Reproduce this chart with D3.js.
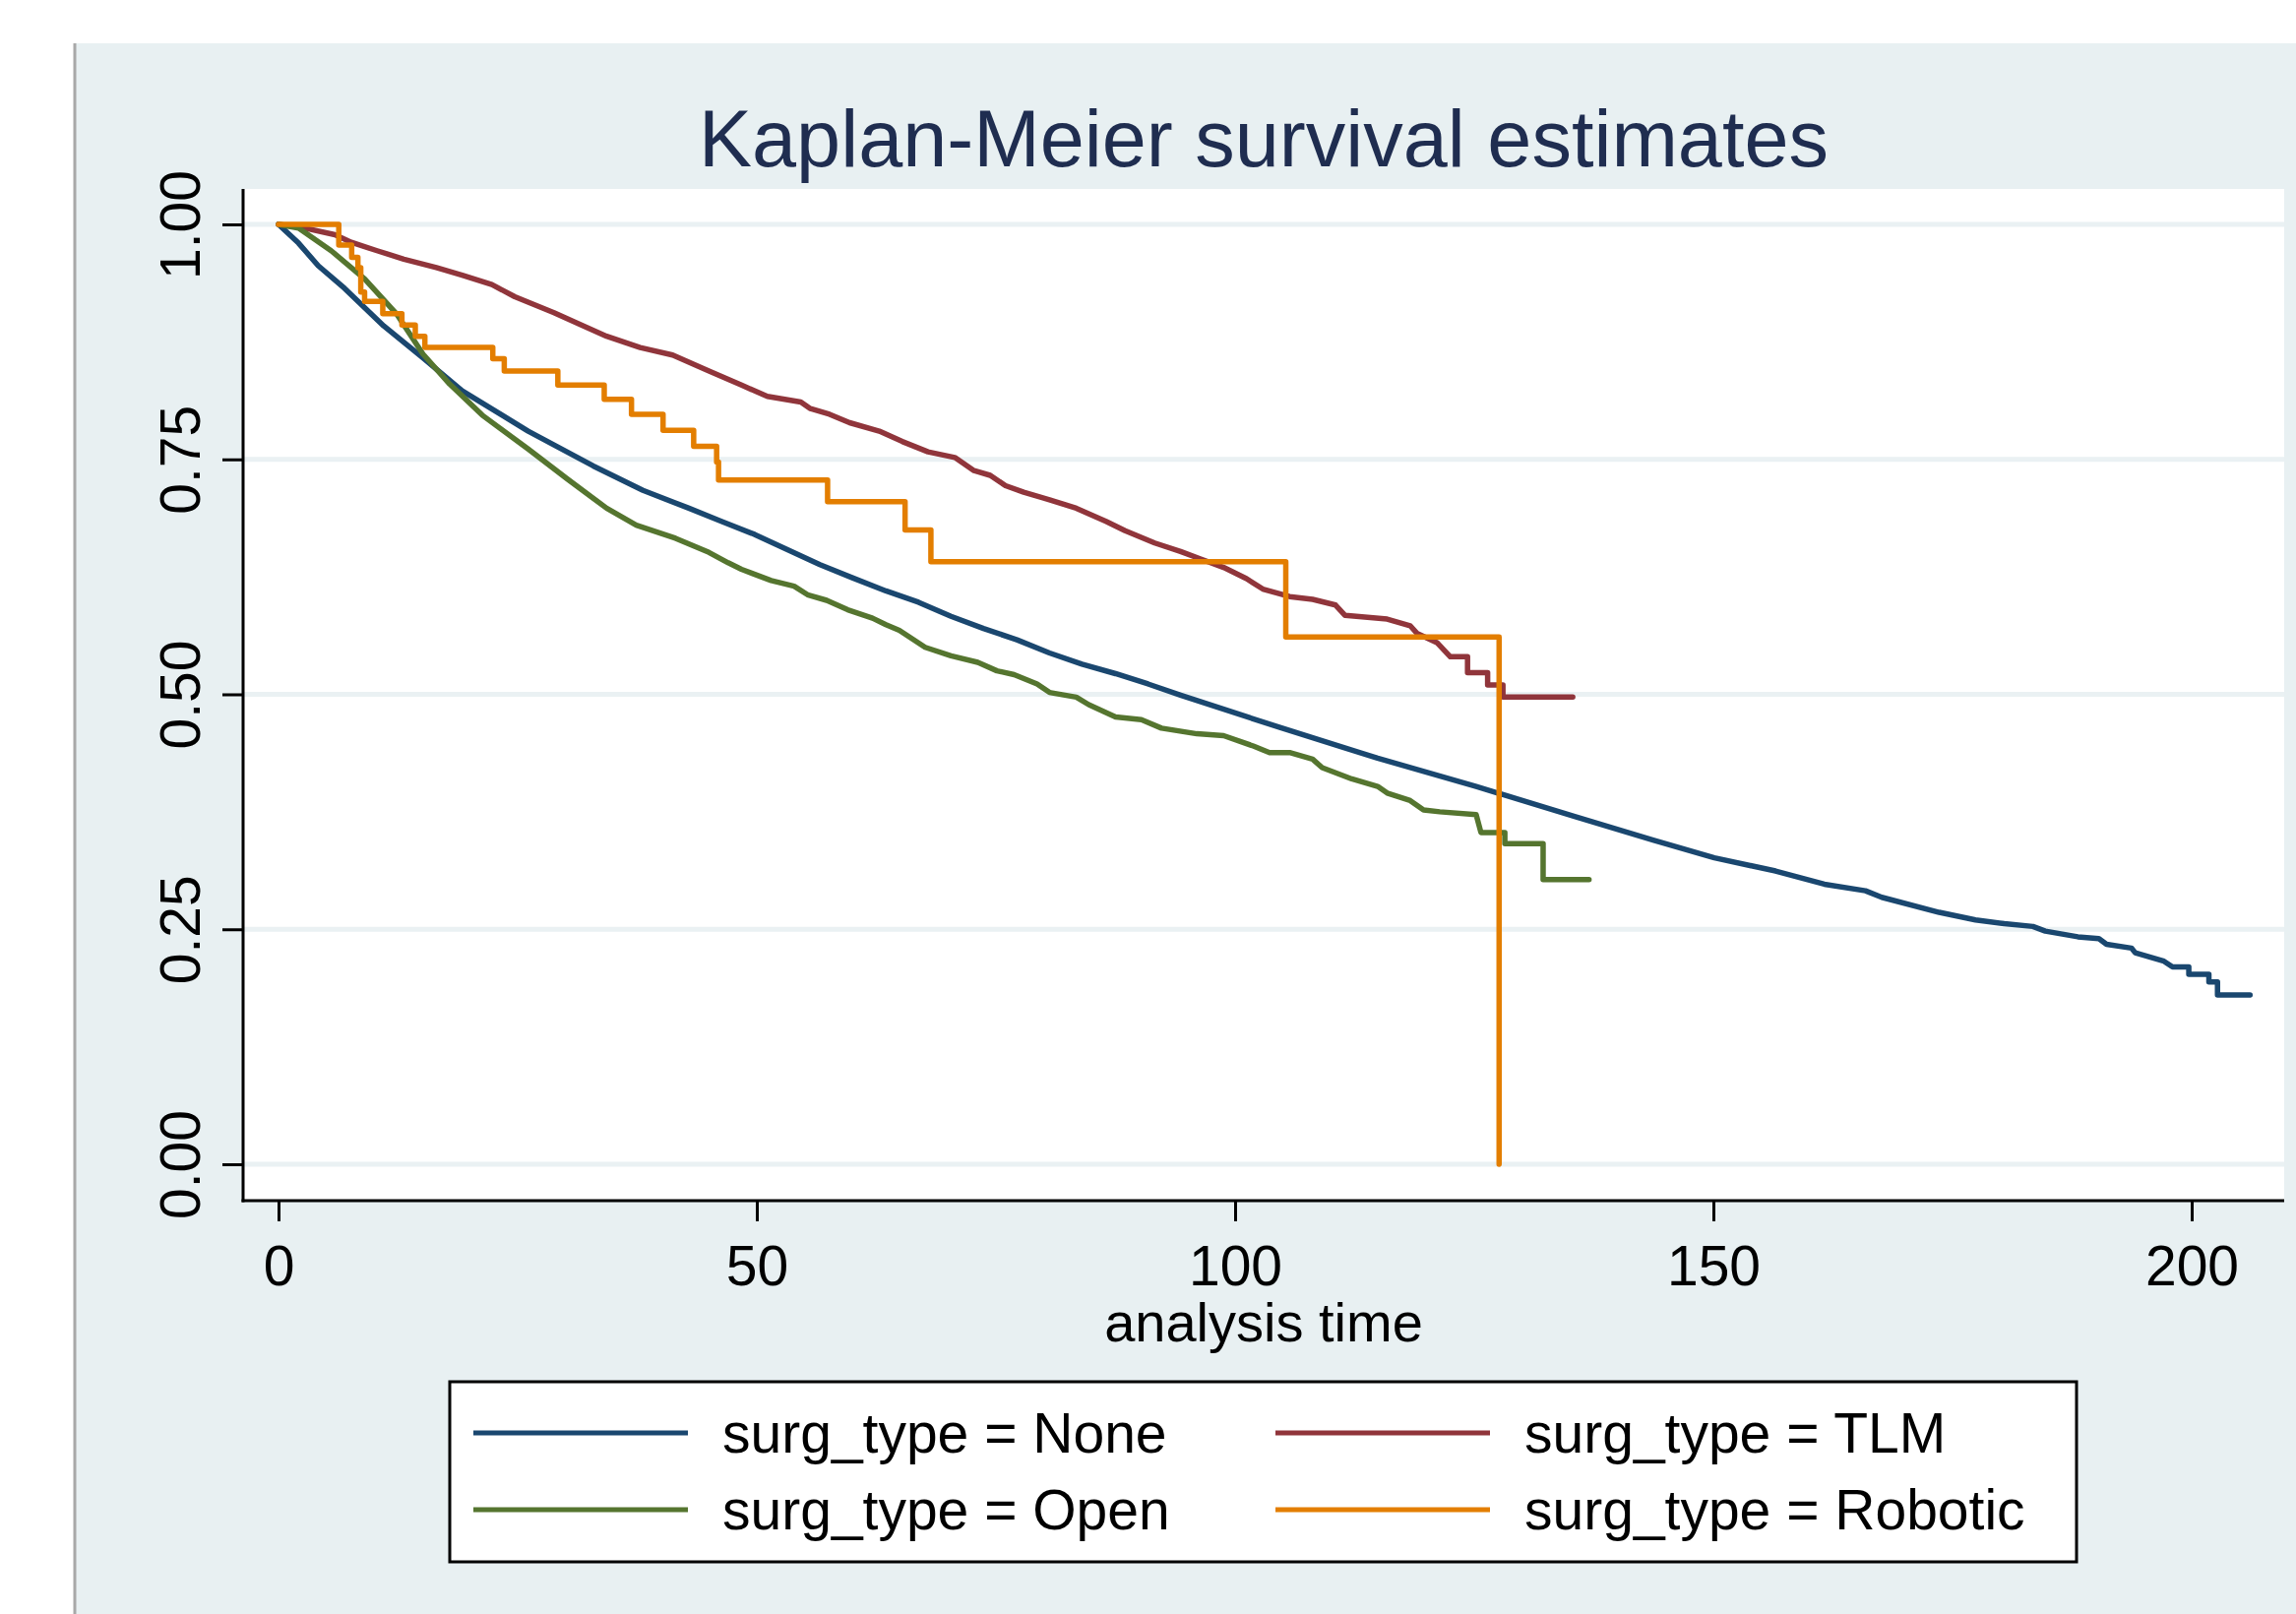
<!DOCTYPE html>
<html>
<head>
<meta charset="utf-8">
<script src="https://cdn.jsdelivr.net/npm/d3@7/dist/d3.min.js"></script>
<style>
  html, body { margin: 0; padding: 0; background: #fff; }
  svg text { font-family: "Liberation Sans", Arial, sans-serif; }
</style>
</head>
<body>
<div id="chart"></div>
<script>
// survival estimates: [analysis time, S(t)]
const noneCurve = [[0,1],[2.1,0.980],[4.15,0.956],[6.9,0.932],[11.0,0.892],[15.1,0.858],[19.2,0.823],[26.1,0.780],
  [32.9,0.743],[38.1,0.717],[42.9,0.698],[46.3,0.684],[49.8,0.670],[53.2,0.654],[56.6,0.638],[60.0,0.624],
  [63.5,0.610],[66.9,0.598],[70.3,0.583],[73.7,0.570],[77.2,0.558],[80.6,0.544],[84.0,0.532],[87.5,0.522],
  [90.9,0.511],[94.3,0.499],[104.6,0.465],[114.9,0.432],[125.2,0.402],[135.5,0.370],[143.7,0.345],[150.1,0.326],
  [156.5,0.312],[161.6,0.298],[165.9,0.291],[167.6,0.284],[173.6,0.268],[177.4,0.260],[180.4,0.256],[183.4,0.253],
  [184.7,0.248],[188.1,0.242],[190.3,0.240],[191.1,0.234],[193.7,0.230],[194.1,0.225],[197.1,0.216],[198.0,0.210],
  [199.7,0.210],[199.7,0.202],[201.8,0.202],[201.8,0.194],[202.7,0.194],[202.7,0.180],[206.1,0.180]];

const tlmCurve = [[0,1],[2.8,0.996],[5.9,0.989],[7.6,0.981],[10.3,0.972],[13.1,0.963],[16.5,0.954],[19.2,0.946],
  [22.3,0.936],[24.7,0.923],[28.8,0.906],[31.2,0.895],[34.3,0.881],[37.8,0.869],[41.2,0.861],[45.0,0.844],
  [48.4,0.829],[51.1,0.817],[54.6,0.811],[55.6,0.804],[57.6,0.798],[59.7,0.789],[62.8,0.780],[65.2,0.769],
  [67.9,0.758],[70.7,0.752],[72.7,0.738],[74.4,0.733],[76.0,0.722],[77.9,0.715],[80.6,0.707],[83.4,0.698],
  [86.5,0.684],[88.5,0.674],[91.6,0.661],[94.3,0.652],[96.4,0.644],[98.8,0.635],[101.2,0.623],[102.9,0.612],
  [105.7,0.604],[108.1,0.601],[110.5,0.595],[111.5,0.584],[115.9,0.580],[118.3,0.573],[119.0,0.565],[121.1,0.555],
  [122.5,0.540],[124.3,0.540],[124.3,0.523],[126.4,0.523],[126.4,0.510],[128.0,0.510],[128.0,0.497],[135.3,0.497]];

const openCurve = [[0,1],[2.1,0.996],[5.5,0.972],[9.0,0.942],[12.4,0.904],[15.1,0.862],[17.9,0.830],[21.3,0.797],
  [26.1,0.761],[30.2,0.729],[34.3,0.698],[37.4,0.680],[41.5,0.666],[45.0,0.651],[47.0,0.640],[48.4,0.633],
  [51.5,0.621],[53.9,0.615],[55.3,0.606],[57.3,0.600],[59.5,0.590],[62.1,0.581],[63.5,0.574],[64.9,0.568],
  [67.6,0.550],[70.3,0.541],[73.1,0.534],[75.1,0.525],[76.9,0.521],[79.3,0.511],[80.6,0.502],[83.4,0.497],
  [84.7,0.489],[87.5,0.476],[90.2,0.473],[92.3,0.464],[96.0,0.458],[98.8,0.456],[101.9,0.445],[103.6,0.438],
  [105.7,0.438],[108.1,0.431],[109.1,0.422],[112.2,0.410],[114.9,0.402],[115.9,0.395],[118.3,0.387],[119.7,0.377],
  [121.4,0.375],[125.2,0.372],[125.7,0.353],[128.2,0.353],[128.2,0.341],[132.2,0.341],[132.2,0.303],[137.0,0.303]];

// robotic group is drawn as a plain step function
const roboticTimes = [0,6.3,7.65,8.3,8.6,9.0,10.9,12.9,14.3,15.3,22.4,23.6,29.2,34.05,36.9,40.2,43.4,45.8,46.0,
  57.4,65.5,68.2,105.3,127.6];
const roboticSurv = [1,0.978,0.965,0.954,0.928,0.918,0.905,0.893,0.881,0.869,0.857,0.844,0.829,0.814,0.798,0.781,
  0.764,0.747,0.728,0.705,0.675,0.641,0.561,0];

const groupNames = ['None', 'TLM', 'Open', 'Robotic'];
const groupColors = ['#1a476f', '#90353b', '#55752f', '#e37e00'];
const xTicks = [0, 50, 100, 150, 200];
const yTicks = [0, 0.25, 0.5, 0.75, 1];

const W = 2333, H = 1640;
const plot = { left: 247, right: 2321, top: 192, bottom: 1220 };

const svg = d3.select('#chart').append('svg')
    .attr('width', W)
    .attr('height', H);

// outer graph region
svg.append('rect')
    .attr('x', 76).attr('y', 44)
    .attr('width', W - 76).attr('height', H - 44)
    .attr('fill', '#e8f0f2');
svg.append('line')
    .attr('x1', 76).attr('x2', 76)
    .attr('y1', 44).attr('y2', H)
    .attr('stroke', '#a8a8a8').attr('stroke-width', 3);

// plot region
svg.append('rect')
    .attr('x', plot.left).attr('y', plot.top)
    .attr('width', plot.right - plot.left).attr('height', plot.bottom - plot.top)
    .attr('fill', '#fff');

const x = d3.scaleLinear().domain([0, 200]).range([283, 2227]);
const y = d3.scaleLinear().domain([0, 1]).range([1183, 228]);

// grid
svg.append('g')
    .selectAll('line')
    .data(yTicks)
    .enter().append('line')
    .attr('x1', plot.left).attr('x2', plot.right)
    .attr('y1', d => y(d)).attr('y2', d => y(d))
    .attr('stroke', '#eaf1f3')
    .attr('stroke-width', 5);

// axes
const yAxis = svg.append('g')
    .attr('transform', `translate(${plot.left},0)`)
    .call(d3.axisLeft(y).tickValues(yTicks).tickFormat(d3.format('.2f')).tickSize(21).tickSizeOuter(0));
yAxis.select('.domain').remove();
yAxis.selectAll('.tick line').attr('stroke', '#000').attr('stroke-width', 3);
yAxis.selectAll('.tick text')
    .attr('x', 0).attr('y', -44).attr('dy', 0)
    .attr('transform', 'rotate(-90)')
    .attr('text-anchor', 'middle')
    .attr('fill', '#000')
    .attr('font-size', 57);

const xAxis = svg.append('g')
    .attr('transform', `translate(0,${plot.bottom})`)
    .call(d3.axisBottom(x).tickValues(xTicks).tickFormat(d3.format('d')).tickSize(21).tickSizeOuter(0));
xAxis.select('.domain').remove();
xAxis.selectAll('.tick line').attr('stroke', '#000').attr('stroke-width', 3);
xAxis.selectAll('.tick text')
    .attr('y', 86).attr('dy', 0)
    .attr('fill', '#000')
    .attr('font-size', 57);

svg.append('line')
    .attr('x1', plot.left).attr('x2', plot.left)
    .attr('y1', plot.top).attr('y2', plot.bottom + 1.5)
    .attr('stroke', '#000').attr('stroke-width', 3);
svg.append('line')
    .attr('x1', plot.left - 1.5).attr('x2', plot.right)
    .attr('y1', plot.bottom).attr('y2', plot.bottom)
    .attr('stroke', '#000').attr('stroke-width', 3);

// curves
const roboticCurve = roboticTimes.map((t, i) => [t, roboticSurv[i]]);
const curves = [noneCurve, tlmCurve, openCurve, roboticCurve];

const smoothLine = d3.line().x(d => x(d[0])).y(d => y(d[1]));
const stepLine = d3.line().x(d => x(d[0])).y(d => y(d[1])).curve(d3.curveStepAfter);

svg.append('g')
    .selectAll('path')
    .data(curves)
    .enter().append('path')
    .attr('d', (d, i) => groupNames[i] === 'Robotic' ? stepLine(d) : smoothLine(d))
    .attr('fill', 'none')
    .attr('stroke', (d, i) => groupColors[i])
    .attr('stroke-width', 5.5)
    .attr('stroke-linejoin', 'round')
    .attr('stroke-linecap', 'round');

// titles
svg.append('text')
    .attr('x', 1284).attr('y', 169)
    .attr('text-anchor', 'middle')
    .attr('font-size', 81)
    .attr('fill', '#1f2d50')
    .text('Kaplan-Meier survival estimates');

svg.append('text')
    .attr('x', 1284).attr('y', 1363)
    .attr('text-anchor', 'middle')
    .attr('font-size', 56)
    .attr('fill', '#000')
    .text('analysis time');

// legend, filled row by row in two columns
const legend = svg.append('g');
legend.append('rect')
    .attr('x', 457).attr('y', 1404)
    .attr('width', 2110 - 457).attr('height', 1587 - 1404)
    .attr('fill', '#fff')
    .attr('stroke', '#000')
    .attr('stroke-width', 3);

const colX = [481, 1296];
const rowY = [1456, 1534];

const item = legend.selectAll('g.item')
    .data(groupNames)
    .enter().append('g')
    .attr('class', 'item')
    .attr('transform', (d, i) => `translate(${colX[i % 2]},${rowY[Math.floor(i / 2)]})`);

item.append('line')
    .attr('x1', 0).attr('x2', 218)
    .attr('y1', 0).attr('y2', 0)
    .attr('stroke', (d, i) => groupColors[i])
    .attr('stroke-width', 5);

item.append('text')
    .attr('x', 253).attr('y', 20)
    .attr('font-size', 57)
    .attr('fill', '#000')
    .text(d => `surg_type = ${d}`);
</script>
</body>
</html>
